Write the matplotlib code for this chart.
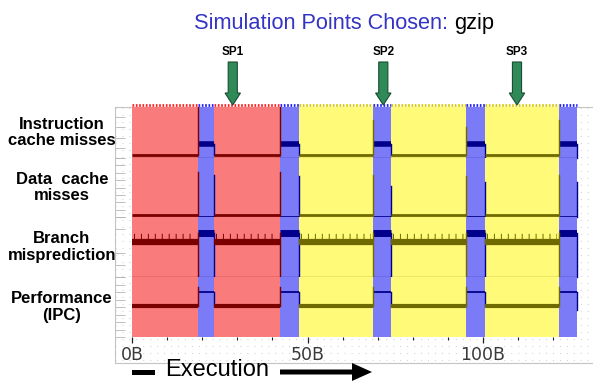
import numpy as np
import matplotlib
matplotlib.use('Agg')
import matplotlib.pyplot as plt
from matplotlib.patches import Rectangle, FancyArrow
from matplotlib.transforms import blended_transform_factory

plt.rcParams['font.family'] = ['Liberation Sans', 'DejaVu Sans']
plt.rcParams['lines.scale_dashes'] = False

W, H = 593, 382

# execution (billions of instructions) split into phases
phase_edges = [0, 18.8, 23.4, 42.2, 47.6, 68.7, 73.8, 95.2, 100.6, 121.7, 126.8]
phase_kind = ['red', 'blue', 'red', 'blue', 'yellow', 'blue', 'yellow', 'blue', 'yellow', 'blue']

# metric level in each phase, as fraction of its strip height
icache_miss = [0.06, 0.27, 0.06, 0.27, 0.06, 0.27, 0.06, 0.27, 0.06, 0.27]
dcache_miss = [0.035, 0.0, 0.035, 0.0, 0.035, 0.0, 0.035, 0.0, 0.035, 0.0]
branch_mispred = [0.58, 0.73, 0.58, 0.73, 0.58, 0.73, 0.58, 0.73, 0.58, 0.73]
ipc = [0.52, 0.75, 0.52, 0.75, 0.52, 0.75, 0.52, 0.75, 0.52, 0.75]

# where the trace jumps to when a blue phase starts / ends (None = plain step)
icache_enter = [1.0, 1.0, 0.75, 0.6, 0.75]
icache_leave = [None, None, None, 0.0, 0.0]
dcache_enter = [0.76, 0.76, 0.72, 0.7, 0.72]
dcache_leave = [0.72, 0.7, 0.52, 0.6, 0.6]
branch_enter = [0.0, 0.0, 0.0, 0.0, 0.0]
branch_leave = [0.0, 0.0, 0.0, 0.0, 0.0]
ipc_enter = [0.83, 0.83, 0.83, 0.83, 0.83]
ipc_leave = [None, None, None, None, 0.45]

metric_names = ['Instruction\ncache misses', 'Data  cache\nmisses',
                'Branch\nmisprediction', 'Performance\n(IPC)']
sim_points = [28.7, 71.6, 109.7]
sp_names = ['SP1', 'SP2', 'SP3']
tick_pos = [0, 50, 100]
tick_names = ['0B', '50B', '100B']

fill_color = {'red': '#fa7b7b', 'blue': '#7b7bf8', 'yellow': '#fffa78'}
trace_color = {'red': '#7a0000', 'blue': '#00008a', 'yellow': '#6e6a00'}
strip_color = {'red': '#ff2020', 'blue': '#2020ff', 'yellow': '#d8c800'}


def px(x, y):
    return x / W, 1 - y / H


def draw_strip(ax, levels, enter, leave, lw_a, lw_b, baseline=True):
    bi = 0
    for i, lev in enumerate(levels):
        x0, x1 = phase_edges[i], phase_edges[i + 1]
        kind = phase_kind[i]
        ax.axvspan(x0, x1, color=fill_color[kind], lw=0, zorder=0)
        if baseline:
            ax.plot([x0, x1], [0, 0], color=trace_color[kind], lw=0.9, zorder=2)
        lw = lw_b if kind == 'blue' else lw_a
        ax.plot([x0, x1], [lev, lev], color=trace_color[kind], lw=lw,
                solid_capstyle='butt', zorder=3)
        if kind == 'blue':
            ys = [levels[i - 1], lev] + ([enter[bi]] if enter[bi] is not None else [])
            ax.plot([x0, x0], [min(ys), max(ys)], color=trace_color[phase_kind[i - 1]],
                    lw=1.0, zorder=3)
            nxt = levels[i + 1] if i + 1 < len(levels) else lev
            ys = [lev, nxt] + ([leave[bi]] if leave[bi] is not None else [])
            ax.plot([x1, x1], [min(ys), max(ys)], color=trace_color['blue'],
                    lw=1.0, zorder=3, clip_on=False)
            bi += 1


fig = plt.figure(figsize=(W / 100, H / 100), dpi=100)

# light framed background with a dotted lattice
bg = fig.add_axes([115 / W, 1 - 363 / H, (W - 115) / W + 0.02, (363 - 107) / H])
bg.set_xlim(0, W - 115 + 12)
bg.set_ylim(0, 256)
for s in ['left', 'top', 'bottom']:
    bg.spines[s].set_color('#c4c4c4')
bg.spines['right'].set_visible(False)
bg.set_xticks([])
bg.set_yticks(np.arange(3, 256, 7))
bg.tick_params(axis='y', length=0, labelleft=False)
bg.grid(axis='y', color='#cfcfcf', lw=0.8, linestyle=(0, (0.7, 4.3)))
# gray scale marks on the left edge
bounds = [107, 158, 217, 277, 337]
left_ticks = []
for i in range(4):
    top, bot = 363 - bounds[i], 363 - bounds[i + 1]
    n = 9 if i in (1, 3) else 6
    left_ticks += list(np.linspace(bot, top, n))
bg.set_yticks(left_ticks, minor=True)
bg.tick_params(axis='y', which='minor', direction='in', length=7, width=0.6,
               color='#b4b4b4')

levels_all = [icache_miss, dcache_miss, branch_mispred, ipc]
enter_all = [icache_enter, dcache_enter, branch_enter, ipc_enter]
leave_all = [icache_leave, dcache_leave, branch_leave, ipc_leave]
lw_pairs = [(2.0, 4.0), (2.0, 1.2), (4.5, 5.0), (3.0, 1.3)]

axes = []
for i in range(4):
    y0, y1 = bounds[i], bounds[i + 1]
    ax = fig.add_axes([131 / W, 1 - y1 / H, (577 - 131) / W, (y1 - y0) / H])
    ax.set_xlim(-0.3, 126.8)
    ax.set_ylim(0, 1)
    ax.patch.set_visible(False)
    for s in ax.spines.values():
        s.set_visible(False)
    ax.set_yticks([])
    draw_strip(ax, levels_all[i], enter_all[i], leave_all[i], *lw_pairs[i],
               baseline=(i < 3))
    ax.set_xticks(np.arange(0, 127, 10))
    if i < 3:
        ax.tick_params(axis='x', direction='out', length=2, width=0.7,
                       color='#444444', labelbottom=False)
    axes.append(ax)

# periodic spikes on the branch trace
for i, kind in enumerate(phase_kind):
    if kind != 'blue':
        axes[2].plot([phase_edges[i] + 0.6, phase_edges[i + 1] - 0.6],
                     [branch_mispred[i] + 0.075] * 2, color=trace_color[kind],
                     lw=6.0, dashes=(0.7, 4.3), solid_capstyle='butt', zorder=3)

# checkered strip along the top edge
for i, kind in enumerate(phase_kind):
    axes[0].plot([phase_edges[i], phase_edges[i + 1]], [1.035, 1.035],
                 color=strip_color[kind], lw=2.0, dashes=(1.2, 1.2),
                 clip_on=False, zorder=4)

axb = axes[3]
axb.set_xticks(tick_pos)
axb.set_xticklabels(tick_names, fontsize=12.5, color='#3a3a3a', family='DejaVu Sans')
axb.set_xticks(np.arange(0, 127, 10), minor=True)
axb.tick_params(axis='x', which='major', direction='out', length=4, width=0.9,
                color='#222222', pad=2.5)
axb.tick_params(axis='x', which='minor', direction='out', length=2, width=0.8,
                color='#222222')

# metric labels
for i, name in enumerate(metric_names):
    yc = (bounds[i] + bounds[i + 1]) / 2
    fig.text(62 / W, 1 - yc / H, name, ha='center', va='center',
             fontsize=12, fontweight='bold', linespacing=1.15)

# simulation point arrows
blend = blended_transform_factory(axes[0].transData, fig.transFigure)
for sp, name in zip(sim_points, sp_names):
    arr = FancyArrow(sp, 1 - 62 / H, 0, -(105 - 62) / H, width=2.6, head_width=4.4,
                     head_length=12 / H, length_includes_head=True, transform=blend,
                     facecolor='#2e8b57', edgecolor='#1d4a33', lw=0.8)
    fig.add_artist(arr)
    fig.text(sp, 1 - 52 / H, name, transform=blend, ha='center', va='center',
             fontsize=8.5, fontweight='bold')

# title in two colours
t1 = fig.text(194 / W, 1 - 29 / H, 'Simulation Points Chosen:', color='#3434c4',
              fontsize=15.7, va='baseline', ha='left')
fig.canvas.draw()
bb = t1.get_window_extent(renderer=fig.canvas.get_renderer())
fig.text(bb.x1 / W + 6 / W, 1 - 29 / H, 'gzip', color='black', fontsize=15.7,
         va='baseline', ha='left')

# execution arrow
x, y = px(132, 374.5)
fig.add_artist(Rectangle((x, y), 23 / W, 5 / H, transform=fig.transFigure,
                         facecolor='black', edgecolor='none'))
x, y = px(280, 372)
fig.add_artist(FancyArrow(x, y, (372 - 280) / W, 0, width=5 / H, head_width=18 / H,
                          head_length=20 / W, length_includes_head=True,
                          transform=fig.transFigure, facecolor='black',
                          edgecolor='none'))
fig.text(165 / W, 1 - 376 / H, 'Execution', fontsize=17, va='baseline', ha='left')

fig.savefig('out.png', dpi=100)
